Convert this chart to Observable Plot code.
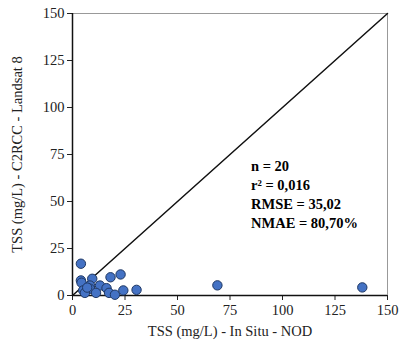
<!DOCTYPE html>
<html>
<head>
<meta charset="utf-8">
<script src="https://cdn.jsdelivr.net/npm/d3@7"></script>
<script src="https://cdn.jsdelivr.net/npm/@observablehq/plot@0.6"></script>
<style>
  html, body { margin: 0; padding: 0; background: #fff; }
  #chart svg { display: block; }
</style>
</head>
<body>
<div id="chart"></div>
<script>
const inSitu = [4.0, 4.0, 4.3, 9.4, 18.1, 22.9, 8.3, 13.1, 16.2, 5.1, 8.3, 5.9, 11.2, 17.4, 20.2, 24.2, 30.5, 7.0, 69.0, 138.0];
const c2rcc  = [16.9, 8.0, 6.8, 8.9, 9.7, 11.2, 5.3, 5.3, 3.9, 2.7, 3.6, 1.4, 1.4, 1.4, 0.4, 2.7, 3.0, 4.2, 5.4, 4.3];
const ticks = [0, 25, 50, 75, 100, 125, 150];
const xLabel = "TSS (mg/L) - In Situ - NOD";
const yLabel = "TSS (mg/L) - C2RCC - Landsat 8";
const statsLines = ["n = 20", "r² = 0,016", "RMSE = 35,02", "NMAE = 80,70%"];
const statsPos = [{x: 85, y: 73.5}];
const identity = [{a: 0}, {a: 150}];

const points = inSitu.map((x, i) => ({x, y: c2rcc[i]}));
const serif = "'Liberation Serif', 'Times New Roman', serif";

const chart = Plot.plot({
  width: 401,
  height: 350,
  marginLeft: 72,
  marginRight: 14,
  marginTop: 13,
  marginBottom: 55,
  style: {fontFamily: serif, fontSize: "14.5px", color: "#222", background: "#fff"},
  x: {domain: [0, 150], ticks: ticks, tickSize: 5, tickPadding: 4, label: null},
  y: {domain: [0, 150], ticks: ticks, tickSize: 5, tickPadding: 3, label: null},
  marks: [
    Plot.ruleY([150], {stroke: "#999", strokeWidth: 1}),
    Plot.ruleX([150], {stroke: "#999", strokeWidth: 1}),
    Plot.line(identity, {x: "a", y: "a", stroke: "#111", strokeWidth: 1.5}),
    Plot.ruleX([0], {stroke: "#111", strokeWidth: 1.5}),
    Plot.ruleY([0], {stroke: "#111", strokeWidth: 1.5}),
    Plot.dot(points, {x: "x", y: "y", r: 4.7, fill: "#4472C4", stroke: "#1F3864", strokeWidth: 1}),
    Plot.text(statsPos, {x: "x", y: "y", text: () => statsLines.join("\n"), textAnchor: "start", lineAnchor: "top", lineHeight: 1.31, fontWeight: "bold", fontSize: 14.5, fill: "#000"}),
    Plot.text([xLabel], {text: d => d, frameAnchor: "bottom", textAnchor: "middle", dy: 40, fontSize: 14.5, fill: "#222"}),
    Plot.text([yLabel], {text: d => d, frameAnchor: "left", textAnchor: "middle", dx: -55, rotate: -90, fontSize: 14.5, fill: "#222"})
  ]
});
document.getElementById("chart").appendChild(chart);
</script>
</body>
</html>
